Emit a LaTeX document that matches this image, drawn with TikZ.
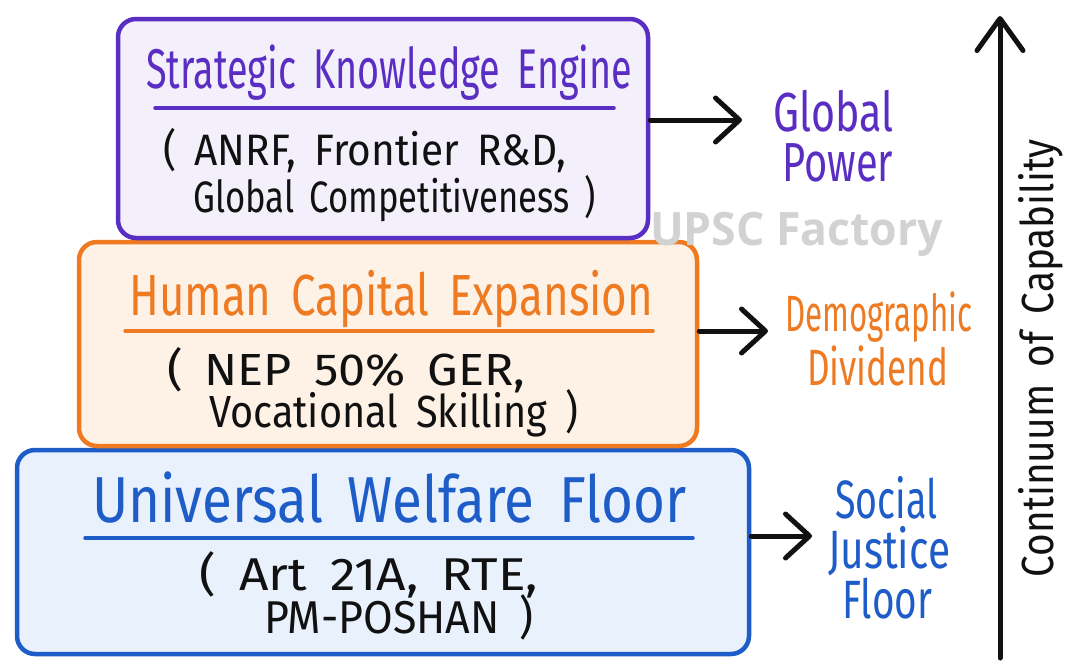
\documentclass[tikz,border=0pt]{standalone}
\usepackage{fontspec}
\usepackage{graphicx}
\usetikzlibrary{arrows.meta}
\newfontfamily\hand[WordSpace=1.7]{Fira Sans}
\newfontfamily\wmfont{Open Sans}
\definecolor{pur}{HTML}{5A2EC3}
\definecolor{purfill}{HTML}{F3F0FB}
\definecolor{org}{HTML}{EE7A22}
\definecolor{orgfill}{HTML}{FEF1E6}
\definecolor{blu}{HTML}{1E5CC8}
\definecolor{blufill}{HTML}{E8F1FC}
\definecolor{ink}{HTML}{111111}
\definecolor{wmgray}{HTML}{D2D2D2}
\newlength\fitlen
\newcommand\fitto[2]{\settowidth\fitlen{#2}\pgfmathsetmacro\fitr{#1/\fitlen}\scalebox{\fitr}[1]{#2}}
\begin{document}
\begin{tikzpicture}[x=1pt,y=-1pt,
  tier/.style={draw=#1, fill=#1fill, line width=4.5pt, rounded corners=18pt, inner sep=0pt},
  txt/.style={anchor=base west, inner sep=0pt, font=\hand},
  uline/.style={draw=#1, line width=3.5pt, line cap=round},
  arr/.style={draw=ink, line width=5pt, line cap=round,
    -{Straight Barb[length=24pt,width=44pt,round]}}]
\useasboundingbox[fill=white] (0,0) rectangle (1080,672);

% tiers
\node[tier=blu, minimum width=732pt, minimum height=204pt] (wbox) at (383,552) {};
\node[tier=org, minimum width=618pt, minimum height=204pt] (hbox) at (388,344) {};
\node[tier=pur, minimum width=530pt, minimum height=219pt] (kbox) at (383,128.5) {};

% purple contents
\node[txt, text=pur] (ktitle) at (146,88) {\fontsize{56}{60}\selectfont\fitto{486}{Strategic Knowledge Engine}};
\draw[uline=pur] (155,108) -- (614,108);
\node[txt, text=ink] (ks1) at (163,165) {\fontsize{44}{48}\selectfont\fitto{403}{( ANRF, Frontier R\&D,}};
\node[txt, text=ink] (ks2) at (193,212) {\fontsize{44}{48}\selectfont\fitto{403}{Global Competitiveness )}};

% orange contents
\node[txt, text=org] (htitle) at (129,315) {\fontsize{58}{62}\selectfont\fitto{524}{Human Capital Expansion}};
\draw[uline=org] (125,331) -- (653,331);
\node[txt, text=ink] (hs1) at (167,385) {\fontsize{45}{48}\selectfont\fitto{358}{( NEP 50\% GER,}};
\node[txt, text=ink] (hs2) at (209,427) {\fontsize{45}{48}\selectfont\fitto{369}{Vocational Skilling )}};

% blue contents
\node[txt, text=blu] (wtitle) at (92,522) {\fontsize{65}{68}\selectfont\fitto{594}{Universal Welfare Floor}};
\draw[uline=blu] (85,538) -- (693,538);
\node[txt, text=ink] (ws1) at (199,590) {\fontsize{46}{48}\selectfont\fitto{339}{( Art 21A, RTE,}};
\node[txt, text=ink] (ws2) at (264,633) {\fontsize{46}{48}\selectfont\fitto{269}{PM-POSHAN )}};

% outcome labels
\node[txt, text=pur] (g1) at (773,131) {\fontsize{55}{60}\selectfont\fitto{120}{Global}};
\node[txt, text=pur] (g2) at (782,181) {\fontsize{55}{60}\selectfont\fitto{111}{Power}};
\node[txt, text=org] (d1) at (785,331) {\fontsize{51}{56}\selectfont\fitto{187}{Demographic}};
\node[txt, text=org] (d2) at (807,385) {\fontsize{51}{56}\selectfont\fitto{141}{Dividend}};
\node[txt, text=blu] (s1) at (835,518) {\fontsize{54}{58}\selectfont\fitto{102}{Social}};
\node[txt, text=blu] (s2) at (828,568) {\fontsize{54}{58}\selectfont\fitto{122}{Justice}};
\node[txt, text=blu] (s3) at (842,618) {\fontsize{54}{58}\selectfont\fitto{90}{Floor}};

% arrows
\coordinate (tipK) at (742,120);
\coordinate (tipH) at (768,331);
\coordinate (tipW) at (812,536);
\draw[arr] (kbox.east |- tipK) -- (tipK);
\draw[arr] (hbox.east |- tipH) -- (tipH);
\draw[arr] (wbox.east |- tipW) -- (tipW);

% capability axis
\coordinate (axb) at (1000,658);
\coordinate (axt) at (1000,16);
\draw[draw=ink, line width=5pt, line cap=round,
  -{Straight Barb[length=32pt,width=46pt,round]}] (axb) -- (axt);
\node[anchor=base, inner sep=0pt, font=\hand, text=ink, rotate=90] (cap) at (1053,358)
  {\fontsize{45}{48}\selectfont\fitto{438}{Continuum of Capability}};

% watermark
\node[anchor=base west, inner sep=0pt, text=wmgray] (wm) at (650,245)
  {\wmfont\bfseries\fontsize{46}{50}\selectfont\fitto{293}{UPSC Factory}};
\end{tikzpicture}
\end{document}
